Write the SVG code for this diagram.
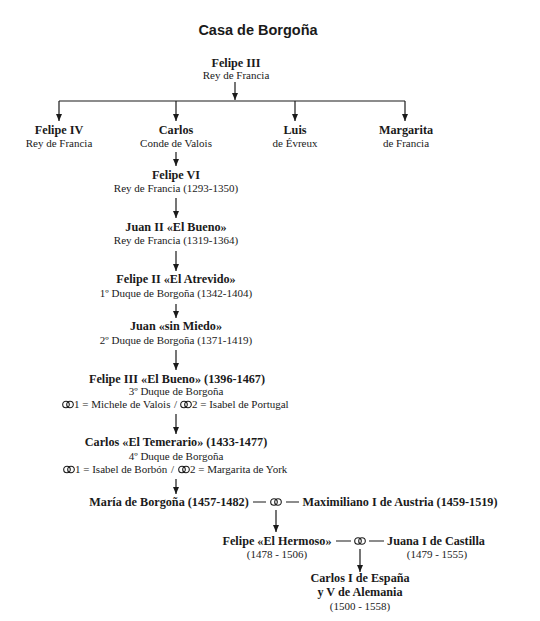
<svg xmlns="http://www.w3.org/2000/svg" width="540" height="621" viewBox="0 0 540 621">
<defs>
<style>
.t{font-family:"Liberation Sans",Arial,sans-serif;font-weight:bold;font-size:14.5px;fill:#1a1a1a;text-anchor:middle}
.n{font-family:"Liberation Serif","Times New Roman",serif;font-weight:bold;font-size:12.2px;fill:#1a1a1a;text-anchor:middle}
.s{font-family:"Liberation Serif","Times New Roman",serif;font-size:11px;fill:#1a1a1a;text-anchor:middle}
.l{font-family:"Liberation Serif","Times New Roman",serif;font-size:11px;fill:#1a1a1a}
.c{stroke:#1a1a1a;stroke-width:1.2;fill:none}
.a{marker-end:url(#ah)}
.r{stroke:#1a1a1a;stroke-width:1.1;fill:none}
</style>
<marker id="ah" markerUnits="userSpaceOnUse" markerWidth="7" markerHeight="8" refX="7" refY="3" orient="auto">
<path d="M0,0 L7,3 L0,6 z" fill="#1a1a1a"/>
</marker>
<g id="rings"><circle cx="-2" cy="0" r="3.3"/><circle cx="2" cy="0" r="3.3"/></g>
</defs>
<text class="t" x="258" y="35">Casa de Borgoña</text>
<g id="connectors">
<path class="c a" d="M235,82 V100"/>
<path class="c" d="M59,101 H405"/>
<path class="c a" d="M59,101 V121"/>
<path class="c a" d="M176,101 V121"/>
<path class="c a" d="M295,101 V121"/>
<path class="c a" d="M405,101 V121"/>
<path class="c a" d="M176,152 V166"/>
<path class="c a" d="M176,198 V218"/>
<path class="c a" d="M176,251 V271"/>
<path class="c a" d="M176,304 V318"/>
<path class="c a" d="M176,350 V370"/>
<path class="c a" d="M176,414 V434"/>
<path class="c a" d="M176,479 V494"/>
<path class="c" d="M253,502 H266 M286,502 H299"/>
<path class="c a" d="M276,510 V532"/>
<path class="c" d="M336,541 H351 M369,541 H384"/>
<path class="c a" d="M360,549 V572"/>
</g>
<g id="felipe3"><text class="n" x="236" y="67">Felipe III</text><text class="s" x="236" y="78.5">Rey de Francia</text></g>
<g id="felipe4"><text class="n" x="59" y="134">Felipe IV</text><text class="s" x="59" y="147">Rey de Francia</text></g>
<g id="carlos"><text class="n" x="176" y="134">Carlos</text><text class="s" x="176" y="147">Conde de Valois</text></g>
<g id="luis"><text class="n" x="295" y="134">Luis</text><text class="s" x="295" y="147">de Évreux</text></g>
<g id="margarita"><text class="n" x="406" y="134">Margarita</text><text class="s" x="406" y="147">de Francia</text></g>
<g id="felipe6"><text class="n" x="176" y="179">Felipe VI</text><text class="s" x="176" y="192">Rey de Francia (1293-1350)</text></g>
<g id="juan2"><text class="n" x="176" y="231">Juan II «El Bueno»</text><text class="s" x="176" y="244">Rey de Francia (1319-1364)</text></g>
<g id="felipe2"><text class="n" x="176" y="283">Felipe II «El Atrevido»</text><text class="s" x="176" y="297">1º Duque de Borgoña (1342-1404)</text></g>
<g id="juansm"><text class="n" x="176" y="330">Juan «sin Miedo»</text><text class="s" x="176" y="344">2º Duque de Borgoña (1371-1419)</text></g>
<g id="felipe3b"><text class="n" x="177" y="383">Felipe III «El Bueno» (1396-1467)</text><text class="s" x="176" y="395">3º Duque de Borgoña</text>
<use href="#rings" class="r" x="68" y="404.5"/><text class="l" x="74" y="408">1 = Michele de Valois</text><text class="l" x="174" y="408">/</text>
<use href="#rings" class="r" x="186" y="404.5"/><text class="l" x="192" y="408">2 = Isabel de Portugal</text></g>
<g id="carlostem"><text class="n" x="176" y="446">Carlos «El Temerario» (1433-1477)</text><text class="s" x="176" y="460">4º Duque de Borgoña</text>
<use href="#rings" class="r" x="69" y="469.5"/><text class="l" x="75" y="473">1 = Isabel de Borbón</text><text class="l" x="171" y="473">/</text>
<use href="#rings" class="r" x="184" y="469.5"/><text class="l" x="190" y="473">2 = Margarita de York</text></g>
<g id="maria"><text class="n" x="169" y="506">María de Borgoña (1457-1482)</text></g>
<g id="m1"><use href="#rings" class="r" x="276" y="502"/></g>
<g id="maximiliano"><text class="n" x="400" y="506">Maximiliano I de Austria (1459-1519)</text></g>
<g id="felipeh"><text class="n" x="277" y="545">Felipe «El Hermoso»</text><text class="s" x="277" y="558">(1478 - 1506)</text></g>
<g id="m2"><use href="#rings" class="r" x="360" y="541"/></g>
<g id="juana"><text class="n" x="436" y="545">Juana I de Castilla</text><text class="s" x="437" y="558">(1479 - 1555)</text></g>
<g id="carlos5"><text class="n" x="360" y="582">Carlos I de España</text><text class="n" x="360" y="596">y V de Alemania</text><text class="s" x="360" y="610">(1500 - 1558)</text></g>
</svg>
